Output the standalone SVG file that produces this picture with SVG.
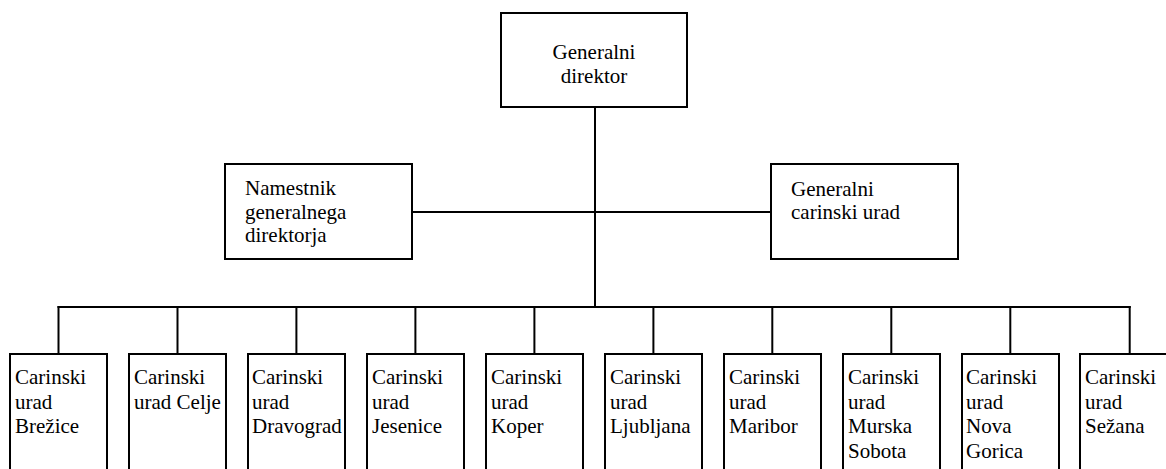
<svg xmlns="http://www.w3.org/2000/svg" width="1166" height="469" viewBox="0 0 1166 469">
<style>
rect.box{fill:#fff;stroke:#000;stroke-width:2}
.con line{stroke:#000;stroke-width:2}
text{font-family:'Liberation Serif',serif;font-size:21px;fill:#000}
.c{text-anchor:middle}
</style>
<rect x="0" y="0" width="1166" height="469" fill="#fff"/>
<g id="connectors" class="con">
<line x1="595" y1="107" x2="595" y2="307"/>
<line x1="412" y1="212" x2="771" y2="212"/>
<line x1="57.5" y1="307" x2="1130.7" y2="307"/>
<line x1="58.5" y1="306" x2="58.5" y2="354"/>
<line x1="177.5" y1="306" x2="177.5" y2="354"/>
<line x1="296.4" y1="306" x2="296.4" y2="354"/>
<line x1="415.4" y1="306" x2="415.4" y2="354"/>
<line x1="534.4" y1="306" x2="534.4" y2="354"/>
<line x1="653.4" y1="306" x2="653.4" y2="354"/>
<line x1="772.3" y1="306" x2="772.3" y2="354"/>
<line x1="891.3" y1="306" x2="891.3" y2="354"/>
<line x1="1010.3" y1="306" x2="1010.3" y2="354"/>
<line x1="1129.7" y1="306" x2="1129.7" y2="354"/>
</g>
<g font-family="Liberation Serif, serif">
<g id="n-gd">
<rect class="box" x="501" y="13" width="186" height="94"/>
<text class="c" x="594" y="59">Generalni</text>
<text class="c" x="594" y="83">direktor</text>
</g>
<g id="n-ngd">
<rect class="box" x="225" y="164" width="187" height="95"/>
<text x="245" y="195">Namestnik</text>
<text x="245" y="218.5">generalnega</text>
<text x="245" y="242">direktorja</text>
</g>
<g id="n-gcu">
<rect class="box" x="771" y="164" width="187" height="95"/>
<text x="791" y="195.5">Generalni</text>
<text x="791" y="219">carinski urad</text>
</g>
<g id="n-brezice">
<rect class="box" x="10" y="354" width="97" height="130"/>
<text x="15" y="384">Carinski</text><text x="15" y="408.5">urad</text><text x="15" y="433">Brežice</text>
</g>
<g id="n-celje">
<rect class="box" x="129" y="354" width="97" height="130"/>
<text x="134" y="384">Carinski</text><text x="134" y="408.5">urad Celje</text>
</g>
<g id="n-dravograd">
<rect class="box" x="248" y="354" width="97" height="130"/>
<text x="252" y="384">Carinski</text><text x="252" y="408.5">urad</text><text x="252" y="433">Dravograd</text>
</g>
<g id="n-jesenice">
<rect class="box" x="367" y="354" width="97" height="130"/>
<text x="372" y="384">Carinski</text><text x="372" y="408.5">urad</text><text x="372" y="433">Jesenice</text>
</g>
<g id="n-koper">
<rect class="box" x="486" y="354" width="97" height="130"/>
<text x="491" y="384">Carinski</text><text x="491" y="408.5">urad</text><text x="491" y="433">Koper</text>
</g>
<g id="n-ljubljana">
<rect class="box" x="605" y="354" width="97" height="130"/>
<text x="610" y="384">Carinski</text><text x="610" y="408.5">urad</text><text x="610" y="433">Ljubljana</text>
</g>
<g id="n-maribor">
<rect class="box" x="724" y="354" width="97" height="130"/>
<text x="729" y="384">Carinski</text><text x="729" y="408.5">urad</text><text x="729" y="433">Maribor</text>
</g>
<g id="n-murska">
<rect class="box" x="843" y="354" width="97" height="130"/>
<text x="848" y="384">Carinski</text><text x="848" y="408.5">urad</text><text x="848" y="433">Murska</text><text x="848" y="457.5">Sobota</text>
</g>
<g id="n-nova">
<rect class="box" x="962" y="354" width="97" height="130"/>
<text x="966" y="384">Carinski</text><text x="966" y="408.5">urad</text><text x="966" y="433">Nova</text><text x="966" y="457.5">Gorica</text>
</g>
<g id="n-sezana">
<rect class="box" x="1080" y="354" width="97" height="130"/>
<text x="1085" y="384">Carinski</text><text x="1085" y="408.5">urad</text><text x="1085" y="433">Sežana</text>
</g>
</g>
</svg>
